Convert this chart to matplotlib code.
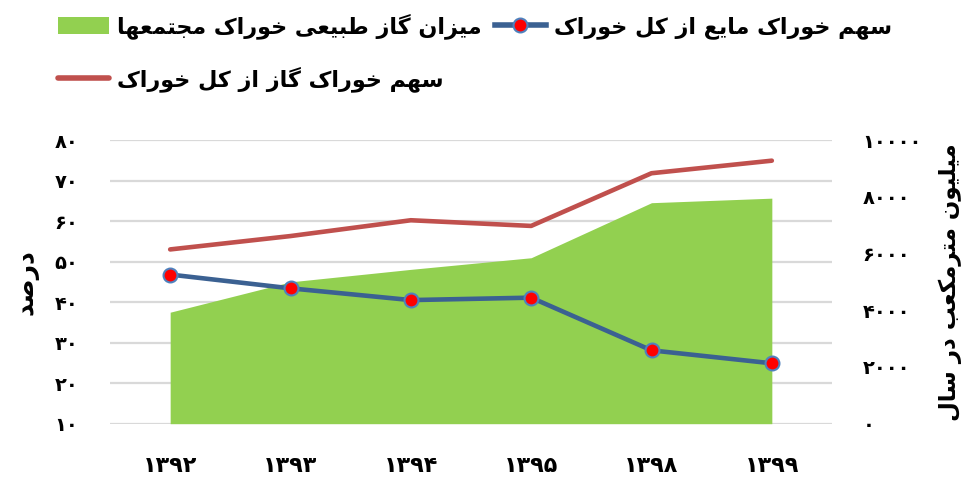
import matplotlib
matplotlib.use("Agg")
import matplotlib.pyplot as plt
from matplotlib.lines import Line2D
from matplotlib.patches import Patch

## Data
years = ["۱۳۹۲", "۱۳۹۳", "۱۳۹۴", "۱۳۹۵", "۱۳۹۸", "۱۳۹۹"]
gasVolume = [3930, 5000, 5440, 5850, 7790, 7950]      # million m3 per year (right axis)
liquidShare = [46.8, 43.4, 40.5, 41.1, 28.1, 24.9]   # percent
gasShare = [53.0, 56.3, 60.2, 58.8, 71.8, 74.9]      # percent

leftTicks = [10, 20, 30, 40, 50, 60, 70, 80]
rightTicks = [0, 2000, 4000, 6000, 8000, 10000]

gasVolumeLabel = "میزان گاز طبیعی خوراک مجتمعها"
liquidShareLabel = "سهم خوراک مایع از کل خوراک"
gasShareLabel = "سهم خوراک گاز از کل خوراک"
leftAxisLabel = "درصد"
rightAxisLabel = "میلیون مترمکعب در سال"

## Colors
green = "#92D050"
blue = "#3B6192"
markerEdge = "#4F81BD"
red = "#C0504D"
gridGrey = "#D9D9D9"

FA_DIGITS = str.maketrans("0123456789", "۰۱۲۳۴۵۶۷۸۹")

# joining forms: (isolated, final, initial, medial)
FORMS = {
    "ا": (0xFE8D, 0xFE8E),
    "ب": (0xFE8F, 0xFE90, 0xFE91, 0xFE92),
    "ت": (0xFE95, 0xFE96, 0xFE97, 0xFE98),
    "ج": (0xFE9D, 0xFE9E, 0xFE9F, 0xFEA0),
    "خ": (0xFEA5, 0xFEA6, 0xFEA7, 0xFEA8),
    "د": (0xFEA9, 0xFEAA),
    "ر": (0xFEAD, 0xFEAE),
    "ز": (0xFEAF, 0xFEB0),
    "س": (0xFEB1, 0xFEB2, 0xFEB3, 0xFEB4),
    "ص": (0xFEB9, 0xFEBA, 0xFEBB, 0xFEBC),
    "ط": (0xFEC1, 0xFEC2, 0xFEC3, 0xFEC4),
    "ع": (0xFEC9, 0xFECA, 0xFECB, 0xFECC),
    "ل": (0xFEDD, 0xFEDE, 0xFEDF, 0xFEE0),
    "م": (0xFEE1, 0xFEE2, 0xFEE3, 0xFEE4),
    "ن": (0xFEE5, 0xFEE6, 0xFEE7, 0xFEE8),
    "ه": (0xFEE9, 0xFEEA, 0xFEEB, 0xFEEC),
    "و": (0xFEED, 0xFEEE),
    "ک": (0xFB8E, 0xFB8F, 0xFB90, 0xFB91),
    "گ": (0xFB92, 0xFB93, 0xFB94, 0xFB95),
    "ی": (0xFBFC, 0xFBFD, 0xFBFE, 0xFBFF),
}


def shape(text):
    # matplotlib has no arabic shaping / bidi, so do it by hand
    out = []
    for i, ch in enumerate(text):
        f = FORMS.get(ch)
        if f is None:
            out.append(ch)
            continue
        prev = text[i - 1] if i > 0 else ""
        nxt = text[i + 1] if i < len(text) - 1 else ""
        joinPrev = len(FORMS.get(prev, ())) == 4
        joinNext = len(f) == 4 and nxt in FORMS
        if joinPrev and joinNext:
            idx = 3
        elif joinPrev:
            idx = 1
        elif joinNext:
            idx = 2
        else:
            idx = 0
        out.append(chr(f[idx]))
    return "".join(reversed(out))


def main():
    plt.rcParams["font.family"] = "DejaVu Sans"
    plt.rcParams["font.weight"] = "bold"

    fig = plt.figure(figsize=(9.68, 4.8), dpi=100)
    ax = fig.add_axes([110 / 968, 1 - 423.7 / 480, 722 / 968, 283.7 / 480])
    axArea = ax.twinx()
    axLines = ax.twinx()

    x = list(range(len(years)))

    # grid (left axis)
    ax.set_ylim(10, 80)
    ax.set_xlim(-0.5, len(years) - 0.5)
    ax.set_yticks(leftTicks)
    ax.set_yticklabels([str(t).translate(FA_DIGITS) for t in leftTicks])
    ax.grid(axis="y", color=gridGrey, linewidth=1.6)
    ax.set_xticks(x)
    ax.set_xticklabels(years)
    ax.tick_params(axis="y", length=0, pad=23, labelsize=14)
    ax.tick_params(axis="x", length=0, pad=23, labelsize=16)
    ax.set_ylabel(shape(leftAxisLabel), fontsize=18, fontweight="bold", labelpad=11)

    # area (right axis)
    axArea.fill_between(x, 0, gasVolume, color=green, linewidth=0)
    axArea.set_ylim(0, 10000)
    axArea.set_yticks(rightTicks)
    axArea.set_yticklabels([str(t).translate(FA_DIGITS) for t in rightTicks])
    axArea.tick_params(axis="y", length=0, pad=22, labelsize=14)
    axArea.set_ylabel(shape(rightAxisLabel), fontsize=16.5, fontweight="bold",
                      rotation=90, labelpad=12)

    # lines (left axis scale)
    axLines.set_ylim(10, 80)
    axLines.plot(x, gasShare, color=red, linewidth=3.3, solid_capstyle="round")
    axLines.plot(
        x, liquidShare, color=blue, linewidth=3.3,
        marker="o", markersize=10, markerfacecolor="red",
        markeredgecolor=markerEdge, markeredgewidth=1.5,
    )
    axLines.set_yticks([])

    for a in (ax, axArea, axLines):
        for s in a.spines.values():
            s.set_visible(False)

    handles = [
        Patch(facecolor=green, edgecolor="none"),
        Line2D([], [], color=red, linewidth=4, solid_capstyle="round"),
        Line2D([], [], color=blue, linewidth=4, marker="o", markersize=10,
               markerfacecolor="red", markeredgecolor=markerEdge, markeredgewidth=1.5),
    ]
    labels = [shape(gasVolumeLabel), shape(gasShareLabel), shape(liquidShareLabel)]
    fig.legend(
        handles, labels, ncol=2, loc="upper left",
        bbox_to_anchor=(58 / 968, 1 - 13 / 480),
        frameon=False, fontsize=16, borderpad=0, borderaxespad=0,
        handlelength=2.3, handletextpad=0.35, columnspacing=0.6,
        labelspacing=1.25, handleheight=0.8,
    )

    fig.savefig("out.png", dpi=100)


main()
